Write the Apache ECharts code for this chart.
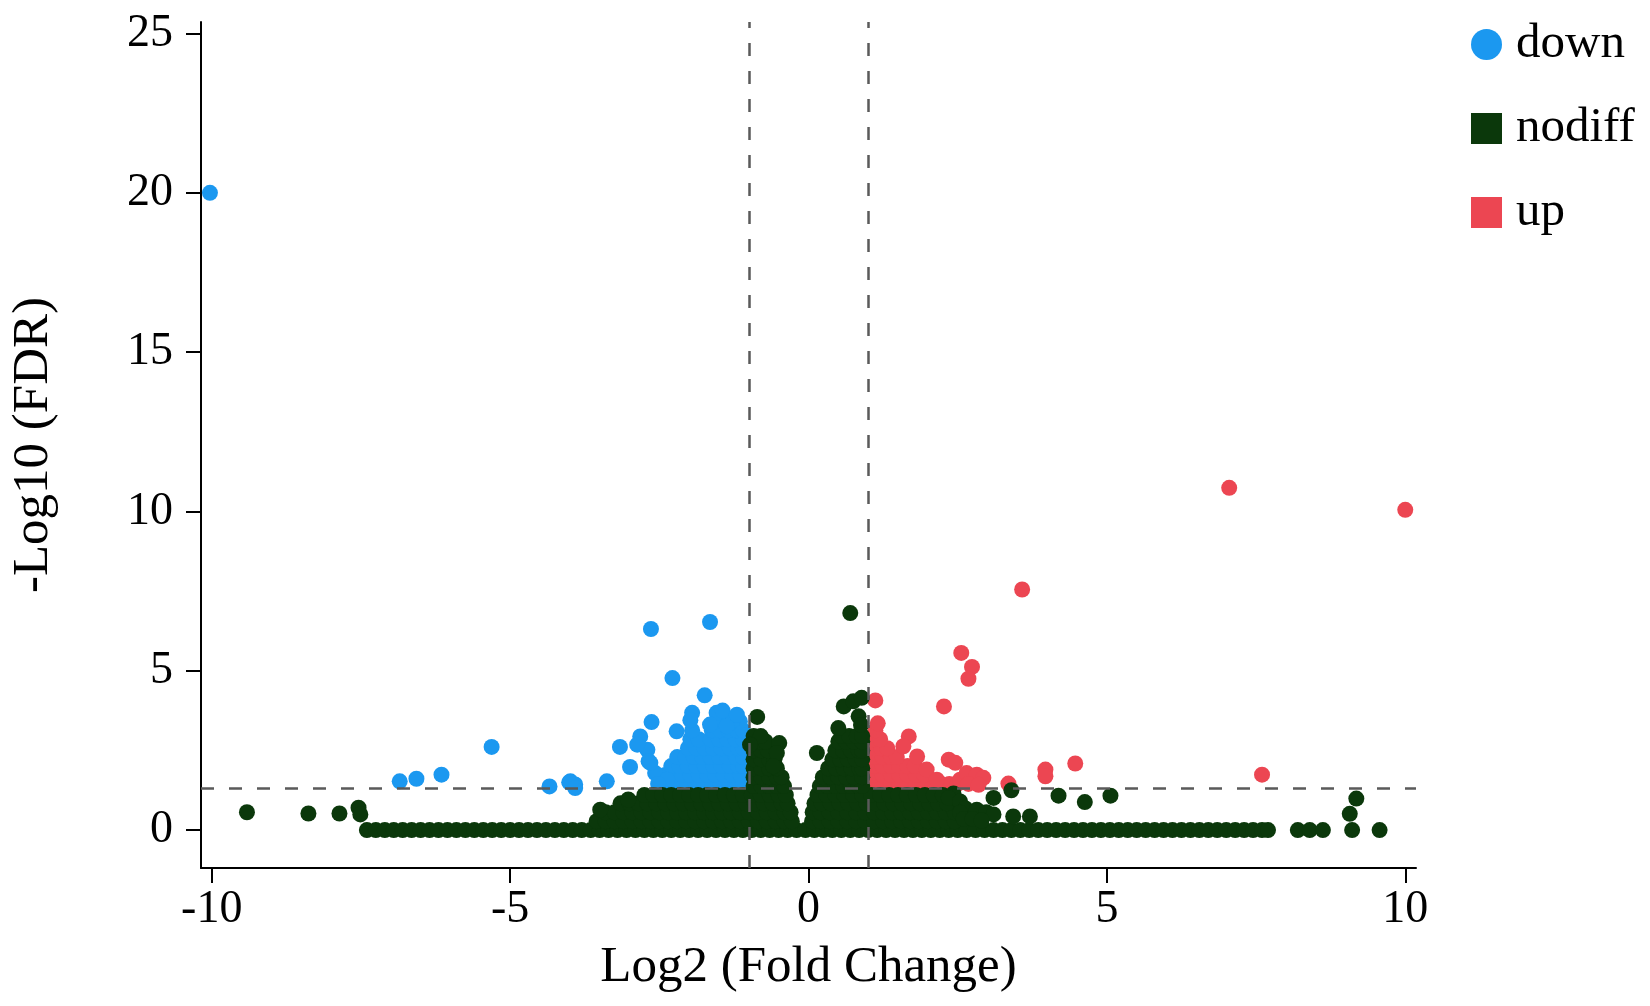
<!DOCTYPE html>
<html><head><meta charset="utf-8">
<script src="https://cdn.jsdelivr.net/npm/echarts@6/dist/echarts.min.js"></script>
<style>html,body{margin:0;padding:0;background:#fff}#chart{width:1650px;height:1006px}</style>
</head><body><div id="chart"></div>
<script>
// ---------------- data ----------------
const xTicks = [-10, -5, 0, 5, 10];
const yTicks = [0, 5, 10, 15, 20, 25];
const groupNames = ['down', 'nodiff', 'up'];
const log2FCCutoffs = [-1, 1];
const fdrCutoff = 1.3;

// genes with -log10(FDR) ~ 0 (bottom band)
const nodiffBaselineX = [-7.40,-7.25,-7.10,-6.95,-6.80,-6.65,-6.50,-6.35,-6.20,-6.05,-5.90,-5.75,-5.60,-5.45,-5.30,-5.15,-5.00,-4.85,-4.70,-4.55,-4.40,-4.25,-4.10,-3.95,-3.80,-3.65,-3.50,-3.35,-3.20,-3.05,-2.90,-2.75,-2.60,-2.45,-2.30,-2.15,-2.00,-1.85,-1.70,-1.55,-1.40,-1.25,-1.10,-0.95,-0.80,-0.65,-0.50,-0.35,-0.20,-0.05,0.10,0.25,0.40,0.55,0.70,0.85,1.00,1.15,1.30,1.45,1.60,1.75,1.90,2.05,2.20,2.35,2.50,2.65,2.80,2.95,3.10,3.25,3.40,3.55,3.70,3.85,4.00,4.15,4.30,4.45,4.60,4.75,4.90,5.05,5.20,5.35,5.50,5.65,5.80,5.95,6.10,6.25,6.40,6.55,6.70,6.85,7.00,7.15,7.30,7.45,7.60,7.70,8.20,8.40,8.62,9.11,9.57];

// dense nodiff cloud: [-log10(FDR), [log2FC values]]
const nodiffRows = [
  [0.28, [-3.55,-3.40,-3.25,-3.10,-2.95,-2.80,-2.65,-2.50,-2.35,-2.20,-2.05,-1.90,-1.75,-1.60,-1.45,-1.30,-1.15,-1.00,-0.85,-0.70,-0.55,-0.40,-0.28,0.06,0.20,0.35,0.50,0.65,0.80,0.95,1.10,1.25,1.40,1.55,1.70,1.85,2.00,2.15,2.30,2.45]],
  [0.56, [-3.40,-3.25,-3.10,-2.95,-2.80,-2.65,-2.50,-2.35,-2.20,-2.05,-1.90,-1.75,-1.60,-1.45,-1.30,-1.15,-1.00,-0.85,-0.70,-0.55,-0.40,-0.30,0.07,0.20,0.35,0.50,0.65,0.80,0.95,1.10,1.25,1.40,1.55,1.70,1.85,2.00,2.15,2.30,2.45]],
  [0.84, [-3.15,-3.00,-2.85,-2.70,-2.55,-2.40,-2.25,-2.10,-1.95,-1.80,-1.65,-1.50,-1.35,-1.20,-1.05,-0.90,-0.75,-0.60,-0.45,-0.35,0.10,0.22,0.37,0.52,0.67,0.82,0.97,1.12,1.27,1.42,1.57,1.72,1.87,2.02,2.17,2.32]],
  [1.10, [-2.75,-2.60,-2.45,-2.30,-2.15,-2.00,-1.85,-1.70,-1.55,-1.40,-1.25,-1.10,-0.95,-0.80,-0.65,-0.50,-0.38,0.15,0.30,0.45,0.60,0.75,0.90,1.05,1.20,1.35,1.50,1.65,1.80,1.95,2.10,2.25]],
  [1.38, [-0.92,-0.79,-0.66,-0.53,-0.41,0.19,0.32,0.45,0.58,0.71,0.84,0.90]],
  [1.66, [-0.92,-0.79,-0.66,-0.53,-0.45,0.24,0.37,0.50,0.63,0.76,0.90]],
  [1.94, [-0.92,-0.79,-0.66,-0.53,0.33,0.46,0.59,0.72,0.85,0.90]],
  [2.22, [-0.92,-0.79,-0.66,-0.57,0.40,0.53,0.66,0.79,0.90]],
  [2.50, [-0.92,-0.79,-0.68,0.45,0.58,0.71,0.84,0.90]],
  [2.78, [-0.92,-0.80,-0.72,0.50,0.63,0.76,0.90]],
  [2.95, [-0.92,-0.80,0.55,0.68,0.81,0.90]]
];
const nodiffExtra = [[-9.41,0.56],[-8.38,0.52],[-7.86,0.52],[-7.54,0.70],[-7.51,0.49],[-3.49,0.64],[-3.02,0.96],[-0.86,3.55],[-0.98,2.68],[-0.49,2.73],[-0.53,2.42],[-0.59,2.00],[0.14,2.42],[0.50,3.20],[0.59,3.88],[0.75,4.04],[0.89,4.15],[0.84,3.57],[0.88,3.30],[0.70,6.81],[2.43,1.15],[2.35,1.01],[2.54,0.90],[2.63,0.68],[2.82,0.64],[2.98,0.56],[3.10,1.01],[3.10,0.49],[2.54,0.54],[2.60,0.35],[2.75,0.35],[2.90,0.30],[3.40,1.25],[3.43,0.43],[3.71,0.43],[4.19,1.08],[4.63,0.88],[5.06,1.08],[9.18,0.99],[9.07,0.51]];

const downRows = [
  [1.45, [-2.45,-2.31,-2.17,-2.03,-1.89,-1.75,-1.61,-1.47,-1.33,-1.19,-1.10]],
  [1.73, [-2.40,-2.26,-2.12,-1.98,-1.84,-1.70,-1.56,-1.42,-1.28,-1.14]],
  [2.01, [-2.30,-2.16,-2.02,-1.88,-1.74,-1.60,-1.46,-1.32,-1.18,-1.10]],
  [2.29, [-2.20,-2.06,-1.92,-1.78,-1.64,-1.50,-1.36,-1.22,-1.10]],
  [2.57, [-2.02,-1.88,-1.74,-1.60,-1.46,-1.32,-1.18,-1.10]],
  [2.85, [-1.98,-1.84,-1.64,-1.50,-1.36,-1.22,-1.10]],
  [3.13, [-1.95,-1.62,-1.48,-1.34,-1.20,-1.10]],
  [3.41, [-1.55,-1.41,-1.27,-1.15]]
];
const downExtra = [[-10.03,20.00],[-2.64,6.31],[-1.65,6.53],[-2.28,4.77],[-1.74,4.23],[-2.63,3.39],[-2.21,3.10],[-2.82,2.94],[-3.16,2.61],[-2.99,1.98],[-3.38,1.53],[-3.99,1.53],[-3.91,1.43],[-2.70,2.52],[-2.87,2.68],[-2.68,2.16],[-2.57,1.79],[-2.37,1.58],[-1.95,3.68],[-1.54,3.68],[-1.26,3.47],[-1.37,3.26],[-1.65,3.31],[-6.85,1.53],[-6.57,1.61],[-6.15,1.74],[-5.31,2.61],[-4.34,1.37],[-4.01,1.50],[-3.91,1.32],[-2.65,2.11],[-1.98,3.45],[-1.44,3.75],[-1.20,3.62],[-2.52,1.45]];

const upRows = [
  [1.45, [1.10,1.24,1.38,1.52,1.66,1.80,1.94,2.08,2.22,2.36,2.50]],
  [1.73, [1.10,1.24,1.38,1.52,1.66,1.80,1.94]],
  [2.01, [1.10,1.24,1.38,1.52,1.66,1.78]],
  [2.29, [1.10,1.24,1.38,1.48]],
  [2.57, [1.10,1.22,1.32]],
  [2.85, [1.10,1.20]],
  [3.13, [1.12]]
];
const upExtra = [[1.12,4.07],[1.16,3.35],[1.68,2.94],[1.59,2.63],[1.82,2.31],[1.98,1.90],[2.15,1.58],[2.35,2.21],[2.46,2.11],[2.54,1.58],[2.65,1.79],[2.82,1.74],[2.93,1.64],[2.27,3.88],[3.35,1.46],[3.97,1.90],[3.97,1.69],[4.47,2.09],[7.60,1.74],[2.56,5.56],[2.74,5.12],[2.68,4.75],[3.58,7.55],[7.05,10.74],[10.00,10.05],[2.68,1.45],[2.85,1.42]];

// ---------------- build ----------------
function fromRows(rows) {
  const out = [];
  rows.forEach(function (r) { r[1].forEach(function (x) { out.push([x, r[0]]); }); });
  return out;
}
const nodiffData = nodiffBaselineX.map(function (x) { return [x, 0]; }).concat(fromRows(nodiffRows), nodiffExtra);
const downData = fromRows(downRows).concat(downExtra);
const upData = fromRows(upRows).concat(upExtra);

const FONT = "'Liberation Serif', 'Times New Roman', serif";
const colors = { down: '#1b98f0', nodiff: '#0b380b', up: '#ec4652' };
const DOT = 16;

const chart = echarts.init(document.getElementById('chart'), null, { renderer: 'canvas' });
const option = {
  animation: false,
  backgroundColor: '#ffffff',
  grid: { left: 201, right: 234, top: 22, bottom: 138, containLabel: false, outerBoundsMode: 'none' },
  legend: {
    orient: 'vertical',
    left: 1466, top: 15,
    itemWidth: 31, itemHeight: 31, itemGap: 35,
    selectedMode: false,
    textStyle: { fontFamily: FONT, fontSize: 49, lineHeight: 48, color: '#000', padding: [0, 0, 0, 9] },
    data: [
      { name: groupNames[0], icon: 'circle' },
      { name: groupNames[1], icon: 'rect' },
      { name: groupNames[2], icon: 'rect' }
    ]
  },
  xAxis: {
    type: 'value', min: -10.18, max: 10.18,
    splitLine: { show: false },
    axisLine: { onZero: false, lineStyle: { color: '#000', width: 2 } },
    axisTick: { show: true, length: 15, customValues: xTicks, lineStyle: { color: '#000', width: 2 } },
    axisLabel: { customValues: xTicks, fontFamily: FONT, fontSize: 46, color: '#000', margin: 19 },
    name: 'Log2 (Fold Change)', nameLocation: 'middle', nameGap: 74,
    nameTextStyle: { fontFamily: FONT, fontSize: 51, color: '#000' }
  },
  yAxis: {
    type: 'value', min: -1.19, max: 25.36,
    splitLine: { show: false },
    axisLine: { onZero: false, lineStyle: { color: '#000', width: 2 } },
    axisTick: { show: true, length: 15, customValues: yTicks, lineStyle: { color: '#000', width: 2 } },
    axisLabel: { customValues: yTicks, fontFamily: FONT, fontSize: 46, color: '#000', margin: 28 },
    name: '-Log10 (FDR)', nameLocation: 'middle', nameGap: 142, nameRotate: 90,
    nameTextStyle: { fontFamily: FONT, fontSize: 51, color: '#000' }
  },
  series: [
    { name: 'down', type: 'scatter', data: downData, symbol: 'circle', symbolSize: DOT, z: 2,
      itemStyle: { color: colors.down, opacity: 1 }, emphasis: { disabled: true } },
    { name: 'up', type: 'scatter', data: upData, symbol: 'circle', symbolSize: DOT, z: 2,
      itemStyle: { color: colors.up, opacity: 1 }, emphasis: { disabled: true } },
    { name: 'nodiff', type: 'scatter', data: nodiffData, symbol: 'circle', symbolSize: DOT, z: 3,
      itemStyle: { color: colors.nodiff, opacity: 1 }, emphasis: { disabled: true } },
    { name: 'cutoffs', type: 'scatter', data: [], z: 10, silent: true,
      markLine: {
        silent: true, symbol: ['none', 'none'], label: { show: false },
        lineStyle: { color: '#5a5a5a', width: 2.5, type: [13, 15] },
        emphasis: { disabled: true },
        data: [{ xAxis: log2FCCutoffs[0] }, { xAxis: log2FCCutoffs[1] }, { yAxis: fdrCutoff }]
      } }
  ]
};
chart.setOption(option);
</script>
</body></html>
